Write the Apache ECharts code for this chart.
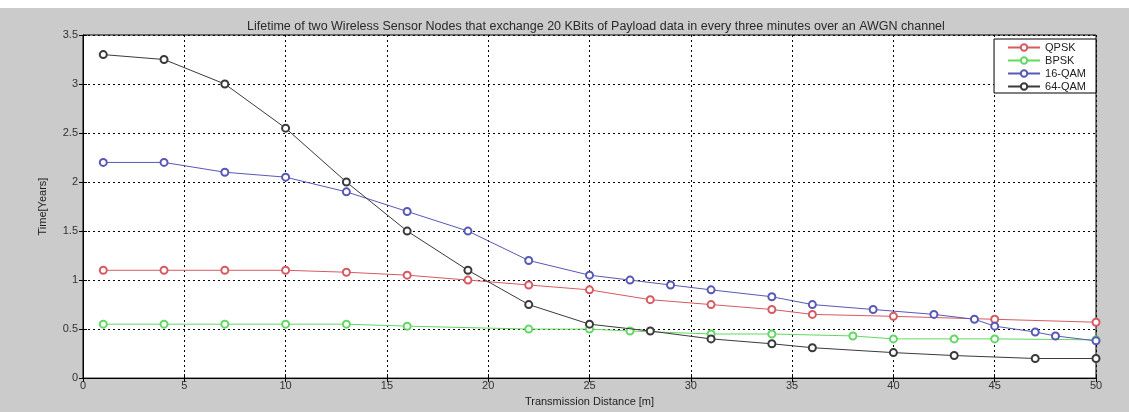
<!DOCTYPE html>
<html>
<head>
<meta charset="utf-8">
<script src="https://cdn.jsdelivr.net/npm/echarts@6/dist/echarts.min.js"></script>
<style>html,body{margin:0;padding:0;background:#fff;}#c{width:1129px;height:412px;}</style>
</head>
<body>
<div id="c"></div>
<script>
const titleText = 'Lifetime of two Wireless Sensor Nodes that exchange 20 KBits of Payload data in every three minutes over an AWGN channel';
const xName = 'Transmission Distance [m]';
const yName = 'Time[Years]';

const qpskX = [1, 4, 7, 10, 13, 16, 19, 22, 25, 28, 31, 34, 36, 40, 45, 50];
const qpskY = [1.1, 1.1, 1.1, 1.1, 1.08, 1.05, 1.0, 0.95, 0.9, 0.8, 0.75, 0.7, 0.65, 0.63, 0.6, 0.57];

const bpskX = [1, 4, 7, 10, 13, 16, 22, 25, 27, 31, 34, 38, 40, 43, 45, 50];
const bpskY = [0.55, 0.55, 0.55, 0.55, 0.55, 0.53, 0.5, 0.5, 0.48, 0.45, 0.45, 0.43, 0.4, 0.4, 0.4, 0.39];

const qam16X = [1, 4, 7, 10, 13, 16, 19, 22, 25, 27, 29, 31, 34, 36, 39, 42, 44, 45, 47, 48, 50];
const qam16Y = [2.2, 2.2, 2.1, 2.05, 1.9, 1.7, 1.5, 1.2, 1.05, 1.0, 0.95, 0.9, 0.83, 0.75, 0.7, 0.65, 0.6, 0.53, 0.47, 0.43, 0.38];

const qam64X = [1, 4, 7, 10, 13, 16, 19, 22, 25, 28, 31, 34, 36, 40, 43, 47, 50];
const qam64Y = [3.3, 3.25, 3.0, 2.55, 2.0, 1.5, 1.1, 0.75, 0.55, 0.48, 0.4, 0.35, 0.31, 0.26, 0.23, 0.2, 0.2];

const seriesNames = ['QPSK', 'BPSK', '16-QAM', '64-QAM'];
const seriesColors = ['#d65a62', '#62d862', '#5858b6', '#3a3a3a'];

function pairs(xs, ys) { return xs.map((x, i) => [x, ys[i]]); }
const allData = [pairs(qpskX, qpskY), pairs(bpskX, bpskY), pairs(qam16X, qam16Y), pairs(qam64X, qam64Y)];

const font = 'Liberation Sans, Arial, sans-serif';
const chart = echarts.init(document.getElementById('c'), null, {renderer: 'canvas'});
const gridLine = {show: true, lineStyle: {color: '#000', width: 1, type: [2, 3]}};
chart.setOption({
  backgroundColor: '#cbcbcb',
  animation: false,
  graphic: [{type: 'rect', left: 0, top: 0, shape: {width: 1129, height: 8}, style: {fill: '#fff'}, z: -1}],
  title: {
    text: titleText, left: 242, top: 15,
    textStyle: {fontFamily: font, fontSize: 12.5, fontWeight: 'normal', color: '#2a2a2a'}
  },
  legend: {
    data: seriesNames, orient: 'vertical', right: 33, top: 39,
    backgroundColor: '#fff', borderColor: '#000', borderWidth: 1,
    padding: [3, 10, 1, 13], itemGap: 2, itemWidth: 32, itemHeight: 8,
    textStyle: {fontFamily: font, fontSize: 11, lineHeight: 10, color: '#222'}
  },
  grid: {left: 83, right: 33, top: 35, bottom: 28, show: true, backgroundColor: '#fff', borderColor: '#000', borderWidth: 1},
  xAxis: [{
    type: 'value', min: 0, max: 50, interval: 5,
    name: xName, nameLocation: 'middle', nameGap: 12,
    nameTextStyle: {fontFamily: font, fontSize: 11, color: '#222'},
    axisLine: {show: true, lineStyle: {color: '#000'}},
    axisTick: {show: true, inside: true, length: 4, lineStyle: {color: '#000'}},
    axisLabel: {fontFamily: font, fontSize: 11, color: '#333', margin: 2},
    splitLine: gridLine
  }, {
    type: 'value', position: 'top', min: 0, max: 50, interval: 5,
    axisLine: {show: true, lineStyle: {color: '#000'}},
    axisTick: {show: true, inside: true, length: 4, lineStyle: {color: '#000'}},
    axisLabel: {show: false}, splitLine: {show: false}
  }],
  yAxis: [{
    type: 'value', min: 0, max: 3.5, interval: 0.5,
    name: yName, nameLocation: 'middle', nameGap: 35, nameRotate: 90,
    nameTextStyle: {fontFamily: font, fontSize: 11, color: '#222'},
    axisLine: {show: true, lineStyle: {color: '#000'}},
    axisTick: {show: true, inside: true, length: 4, lineStyle: {color: '#000'}},
    axisLabel: {fontFamily: font, fontSize: 11, color: '#333', margin: 5},
    splitLine: gridLine
  }, {
    type: 'value', position: 'right', min: 0, max: 3.5, interval: 0.5,
    axisLine: {show: true, lineStyle: {color: '#000'}},
    axisTick: {show: true, inside: true, length: 4, lineStyle: {color: '#000'}},
    axisLabel: {show: false}, splitLine: {show: false}
  }],
  series: seriesNames.map((n, i) => ({
    name: n, type: 'line', data: allData[i],
    xAxisIndex: 0, yAxisIndex: 0,
    symbol: 'emptyCircle', symbolSize: 7, showAllSymbol: true,
    itemStyle: {color: seriesColors[i], borderWidth: 1},
    lineStyle: {color: seriesColors[i], width: 1},
    z: i === 1 ? 2 : 3
  }))
});
</script>
</body>
</html>
